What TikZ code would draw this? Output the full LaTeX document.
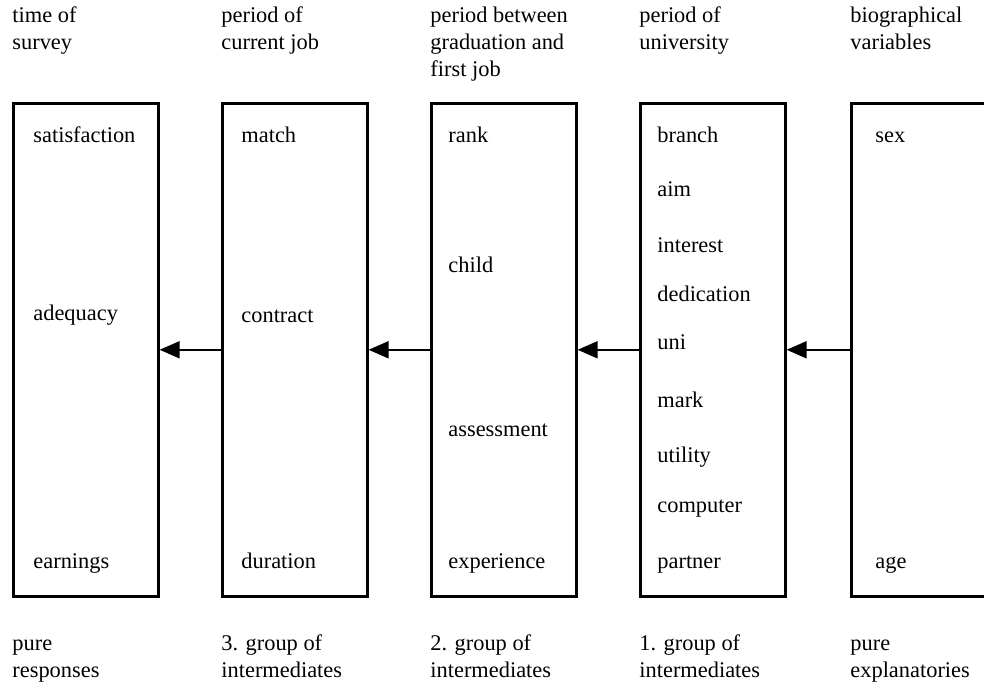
\documentclass[tikz,border=0pt]{standalone}
\usepackage{fontspec}
\setmainfont{Liberation Serif}
\usetikzlibrary{arrows.meta}

\begin{document}
\begin{tikzpicture}[x=0.5pt, y=-0.5pt,
    font=\fontsize{11.2}{13.5}\selectfont,
    stage/.style={draw, line width=1.3pt, anchor=north west,
        minimum width=72.5pt, minimum height=246.5pt, inner sep=0pt},
    var/.style={anchor=base west, inner sep=0pt},
    caption/.style={anchor=base west, align=left, inner sep=0pt},
    flow/.style={-{Triangle[length=10pt, width=8.5pt]}, line width=0.9pt}]
    \useasboundingbox (0,0) rectangle (984,683);

    % the five groups of variables
    \node[stage] (resp) at (12,102) {};
    \node[stage] (inter3) at (221,102) {};
    \node[stage] (inter2) at (430,102) {};
    \node[stage] (inter1) at (639,102) {};
    \node[stage] (expl) at (850,102) {};

    % time periods (base = last line)
    \node[caption] (tsurvey) at (12,50) {time of\\survey};
    \node[caption] (tjob) at (221,50) {period of\\current job};
    \node[caption] (tgrad) at (430,77) {period between\\graduation and\\first job};
    \node[caption] (tuni) at (639,50) {period of\\university};
    \node[caption] (tbio) at (850,50) {biographical\\variables};

    % kinds of groups
    \node[caption] (gresp) at (12,677) {pure\\responses};
    \node[caption] (g3) at (221,677) {3. group of\\intermediates};
    \node[caption] (g2) at (430,677) {2. group of\\intermediates};
    \node[caption] (g1) at (639,677) {1. group of\\intermediates};
    \node[caption] (gexpl) at (850,677) {pure\\explanatories};

    % responses
    \node[var] (satisf) at (33,143) {satisfaction};
    \node[var] (adequ) at (33,321) {adequacy};
    \node[var] (earn) at (33,568) {earnings};

    % current job
    \node[var] (match) at (241,143) {match};
    \node[var] (contr) at (241,323) {contract};
    \node[var] (durat) at (241,568) {duration};

    % graduation to first job
    \node[var] (rank) at (448,143) {rank};
    \node[var] (child) at (448,273) {child};
    \node[var] (assess) at (448,437) {assessment};
    \node[var] (exper) at (448,568) {experience};

    % university
    \node[var] (branch) at (657,143) {branch};
    \node[var] (aim) at (657,197) {aim};
    \node[var] (inter) at (657,253) {interest};
    \node[var] (dedic) at (657,302) {dedication};
    \node[var] (univ) at (657,350) {uni};
    \node[var] (mark) at (657,408) {mark};
    \node[var] (util) at (657,463) {utility};
    \node[var] (comp) at (657,512) {computer};
    \node[var] (partn) at (657,568) {partner};

    % biography
    \node[var] (sex) at (875,143) {sex};
    \node[var] (age) at (875,568) {age};

    \draw[flow] (expl.west) -- (inter1.east);
    \draw[flow] (inter1.west) -- (inter2.east);
    \draw[flow] (inter2.west) -- (inter3.east);
    \draw[flow] (inter3.west) -- (resp.east);
\end{tikzpicture}
\end{document}
